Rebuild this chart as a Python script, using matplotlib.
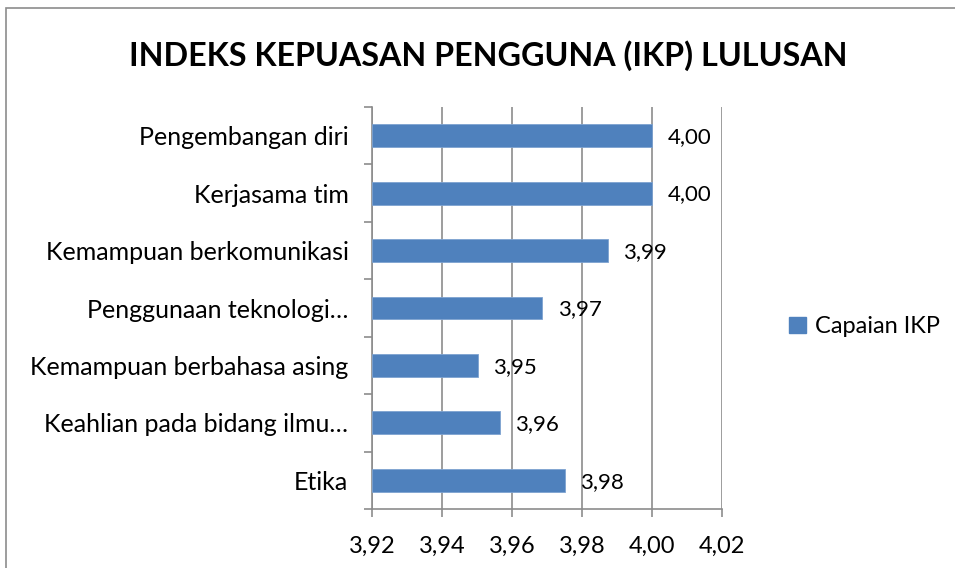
import matplotlib
matplotlib.use("Agg")
import matplotlib.pyplot as plt
from matplotlib.patches import Rectangle, Patch
from matplotlib.ticker import FixedLocator

categories = ["Pengembangan diri", "Kerjasama tim", "Kemampuan berkomunikasi",
              "Penggunaan teknologi…", "Kemampuan berbahasa asing",
              "Keahlian pada bidang ilmu…", "Etika"]
values = [4.000, 4.000, 3.9874, 3.9687, 3.9502, 3.9565, 3.975]
value_labels = ["4,00", "4,00", "3,99", "3,97", "3,95", "3,96", "3,98"]
xticks = [3.92, 3.94, 3.96, 3.98, 4.00, 4.02]
xtick_labels = ["3,92", "3,94", "3,96", "3,98", "4,00", "4,02"]
series_name = "Capaian IKP"
title = "INDEKS KEPUASAN PENGGUNA (IKP) LULUSAN"

plt.rcParams['font.family'] = ['Lato', 'DejaVu Sans']

W, H = 955, 568
fig = plt.figure(figsize=(W/100, H/100), dpi=100)
fig.patch.set_facecolor("white")

# outer chart frame
fig.patches.append(Rectangle((6/W, -0.05), 1.1, 1 - 8/H + 0.05, transform=fig.transFigure,
                             fill=False, edgecolor="#8c8c8c", linewidth=1.2))

left, right, top, bottom = 372/W, 722/W, 1 - 107/H, 1 - 509/H
ax = fig.add_axes([left, bottom, right-left, top-bottom])

bar_color = "#4F81BD"
n = len(categories)
ypos = list(range(n))[::-1]
ax.barh(ypos, [v - xticks[0] for v in values], left=xticks[0], height=0.4,
        color=bar_color, edgecolor="#7ea3d1", linewidth=0.6, zorder=3)

for y, v, lab in zip(ypos, values, value_labels):
    ax.annotate(lab, (v, y), xytext=(11, -1), textcoords="offset points",
                ha="left", va="center", fontsize=16, color="black", zorder=4)

ax.set_xlim(xticks[0], xticks[-1])
ax.set_ylim(-0.5, n - 0.5)
ax.set_xticks(xticks)
ax.set_xticklabels(xtick_labels, fontsize=17)
ax.set_yticks(ypos)
ax.set_yticklabels(categories, fontsize=18)
ax.yaxis.set_minor_locator(FixedLocator([i - 0.5 for i in range(n + 1)]))

ax.tick_params(axis="y", which="major", length=0, pad=17)
ax.tick_params(axis="y", which="minor", length=6, color="#8c8c8c", width=1.2, direction="out")
ax.tick_params(axis="x", which="major", length=6, color="#8c8c8c", width=1.2, pad=13)

ax.grid(axis="x", color="#8c8c8c", linewidth=1.2, zorder=0)
ax.set_axisbelow(True)
for s in ["top", "right"]:
    ax.spines[s].set_visible(False)
for s in ["left", "bottom"]:
    ax.spines[s].set_color("#8c8c8c")
    ax.spines[s].set_linewidth(1.2)

fig.text(488/W, 1 - 56/H, title, ha="center", va="center", fontsize=23.2,
         fontweight="bold", color="black")

leg = fig.legend(handles=[Patch(facecolor=bar_color, edgecolor=bar_color, label=series_name)],
                 loc="center left", bbox_to_anchor=(768/W, 1 - 327/H), frameon=False,
                 fontsize=17, handlelength=0.7, handleheight=0.7, handletextpad=0.4)

fig.savefig("out.png", dpi=100, facecolor="white")
